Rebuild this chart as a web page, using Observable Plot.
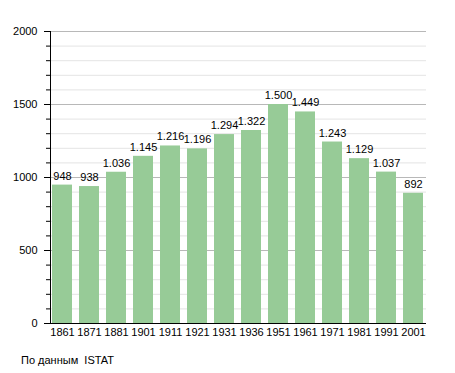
<!DOCTYPE html>
<html><head><meta charset="utf-8">
<script src="https://cdn.jsdelivr.net/npm/d3@7"></script>
<script src="https://cdn.jsdelivr.net/npm/@observablehq/plot@0.6"></script>
<style>
body{margin:0;background:#fff;font-family:"Liberation Sans",Arial,sans-serif;position:relative;width:455px;height:373px;overflow:hidden;}
#caption{position:absolute;left:21px;top:354px;font-size:11px;line-height:13px;color:#000;}
</style>
</head><body>
<div id="chart"></div>
<div id="caption">По данным&nbsp; ISTAT</div>
<script>
const years = ["1861","1871","1881","1901","1911","1921","1931","1936","1951","1961","1971","1981","1991","2001"];
const population = [948,938,1036,1145,1216,1196,1294,1322,1500,1449,1243,1129,1037,892];
const yMajor = [0,500,1000,1500,2000];
const yMinor = d3.range(0,2001,100);

const data = years.map((y,i)=>({year:y, value:population[i]}));
const fmt = v => v >= 1000 ? Math.floor(v/1000) + "." + String(v%1000).padStart(3,"0") : String(v);

const chart = Plot.plot({
  width: 455, height: 345,
  marginLeft: 50, marginRight: 29, marginTop: 31, marginBottom: 22,
  style: {fontFamily: '"Liberation Sans", Arial, sans-serif', fontSize: "11px", color: "#000", background: "#fff"},
  x: {domain: years, paddingInner: 0.25, paddingOuter: 0.03, label: null},
  y: {domain: [0,2000], label: null},
  marks: [
    Plot.ruleY(yMinor.filter(v=>v%500!==0), {stroke:"#e4e4e4", strokeOpacity:1}),
    Plot.ruleY(yMajor.filter(v=>v>0), {stroke:"#b8b8b8", strokeOpacity:1}),
    Plot.barY(data, {x:"year", y:"value", fill:"#97cb97"}),
    Plot.text(data, {x:"year", y:"value", text: d=>fmt(d.value), dy:-9, fontSize:11, fill:"#000"}),
    Plot.axisY(yMinor, {tickSize:4, tickFormat: () => "", label:null, stroke:"#000", strokeOpacity:1}),
    Plot.axisY(yMajor, {tickSize:6, tickPadding:7, tickFormat: d => String(d), label:null, stroke:"#000", strokeOpacity:1, fontSize:11}),
    Plot.axisX({tickSize:0, tickPadding:5, label:null, fontSize:11}),
    Plot.ruleY([0], {stroke:"#000"}),
    Plot.frame({anchor:"left", stroke:"#000"})
  ]
});
document.getElementById("chart").append(chart);
</script>
</body></html>
